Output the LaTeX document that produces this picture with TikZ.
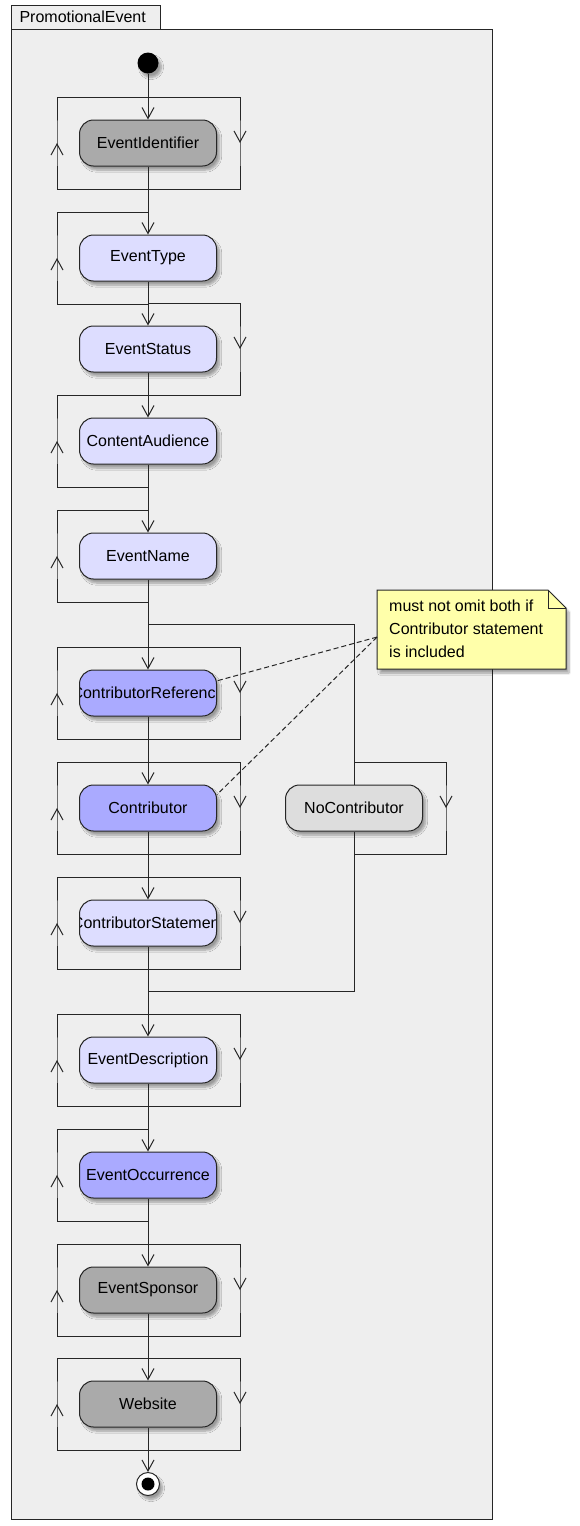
\documentclass[tikz,border=0pt]{standalone}
\usepackage{fontspec}
\setmainfont{Liberation Sans}
\usetikzlibrary{arrows.meta,calc,shadows.blur,decorations.markings}

\definecolor{framegray}{HTML}{EEEEEE}
\definecolor{darkact}{HTML}{AAAAAA}
\definecolor{paleact}{HTML}{DDDDFF}
\definecolor{blueact}{HTML}{AAAAFF}
\definecolor{greyact}{HTML}{DDDDDD}
\definecolor{noteyellow}{HTML}{FFFFAA}

\newcommand{\repeatloop}[1]{\draw[loopline] ($(#1.center)+(0,46)$) -| ($(#1.center)+(-91,0)$) |- ($(#1.center)+(0,-46)$);}
\newcommand{\skiploop}[1]{\draw[loopline] ($(#1.center)+(0,-46)$) -| ($(#1.center)+(92,0)$) |- ($(#1.center)+(0,46)$);}

\begin{document}
\begin{tikzpicture}[x=1pt, y=-1pt,
    vee/.tip={Straight Barb[length=11pt,width=12pt]},
    softshadow/.style={blur shadow={shadow xshift=3pt, shadow yshift=-4pt, shadow opacity=35, shadow blur steps=8}},
    act/.style={rounded corners=14pt, draw=black!85, line width=1pt, minimum width=137pt, minimum height=46pt,
        inner sep=0pt, font=\fontsize{16}{19}\selectfont, softshadow},
    clipped/.style={path picture={\node[font=\fontsize{16}{19}\selectfont] at (path picture bounding box.center) {#1};}},
    flow/.style={draw=black!85, line width=1pt, -vee},
    loopline/.style={draw=black!85, line width=1pt, postaction={decorate},
        decoration={markings, mark=at position 0.5 with {\arrow{vee}}}}]
            \useasboundingbox (0,0) rectangle (580,1526);
            \filldraw[fill=framegray, draw=black!85, line width=1pt] (11,29) rectangle (492,1519);
            \filldraw[fill=framegray, draw=black!85, line width=1pt] (11,5) rectangle (160,29);
            \node[anchor=west, font=\fontsize{16}{19}\selectfont] (framelabel) at (16,17) {PromotionalEvent};

            \node[circle, fill=black, minimum size=21pt, inner sep=0pt, softshadow] (start) at (148,63) {};
            \node[act, fill=darkact] (eid) at (148,143) {EventIdentifier};
            \node[act, fill=paleact] (etype) at (148,258) {EventType};
            \node[act, fill=paleact] (estatus) at (148,349) {EventStatus};
            \node[act, fill=paleact] (caud) at (148,441) {ContentAudience};
            \node[act, fill=paleact] (ename) at (148,556) {EventName};
            \node[act, fill=blueact, clipped=ContributorReference] (cref) at (148,693) {};
            \node[act, fill=blueact] (contrib) at (148,808) {Contributor};
            \node[act, fill=greyact] (nocon) at (354,808) {NoContributor};
            \node[act, fill=paleact, clipped=ContributorStatement] (cstate) at (148,923) {};
            \node[act, fill=paleact] (edesc) at (148,1060) {EventDescription};
            \node[act, fill=blueact] (eocc) at (148,1175) {EventOccurrence};
            \node[act, fill=darkact] (espons) at (148,1290) {EventSponsor};
            \node[act, fill=darkact] (web) at (148,1404) {Website};
            \node[circle, draw=black!85, fill=white, line width=1pt, minimum size=23pt, inner sep=0pt, softshadow] (final) at (148,1484) {};
            \fill (final) circle (6.5);

            \coordinate (fork) at (148,624);
            \coordinate (join) at (148,991);

            \draw[flow] (start) -- (eid);
            \draw[flow] (eid) -- (etype);
            \draw[flow] (etype) -- (estatus);
            \draw[flow] (estatus) -- (caud);
            \draw[flow] (caud) -- (ename);
            \draw[flow] (ename) -- (cref);
            \draw[flow] (cref) -- (contrib);
            \draw[flow] (contrib) -- (cstate);
            \draw[flow] (cstate) -- (edesc);
            \draw[flow] (edesc) -- (eocc);
            \draw[flow] (eocc) -- (espons);
            \draw[flow] (espons) -- (web);
            \draw[flow] (web) -- (final);
            \draw[draw=black!85, line width=1pt] (fork) -| (nocon);
            \draw[draw=black!85, line width=1pt] (nocon) |- (join);

            \repeatloop{eid}
            \skiploop{eid}
            \repeatloop{etype}
            \skiploop{estatus}
            \repeatloop{caud}
            \repeatloop{ename}
            \repeatloop{cref}
            \skiploop{cref}
            \repeatloop{contrib}
            \skiploop{contrib}
            \skiploop{nocon}
            \repeatloop{cstate}
            \skiploop{cstate}
            \repeatloop{edesc}
            \skiploop{edesc}
            \repeatloop{eocc}
            \repeatloop{espons}
            \skiploop{espons}
            \repeatloop{web}
            \skiploop{web}

            \filldraw[fill=noteyellow, draw=black!85, line width=1pt, softshadow] (377,590) -- (548,590) -- (566,608) -- (566,669) -- (377,669) -- cycle;
            \draw[black!85, line width=1pt] (548,590) -- (548,608) -- (566,608);
            \node[anchor=north west, inner sep=0pt, align=left, font=\fontsize{16}{23}\selectfont] (note) at (389,600) {must not omit both if\\Contributor statement\\is included};
            \draw[dash pattern=on 5pt off 3pt, black!85, line width=1pt] ([yshift=-8pt]note.west -| 377,0) -- (cref.10);
            \draw[dash pattern=on 5pt off 3pt, black!85, line width=1pt] ([yshift=-8pt]note.west -| 377,0) -- (contrib.11);

        \end{tikzpicture}
\end{document}
